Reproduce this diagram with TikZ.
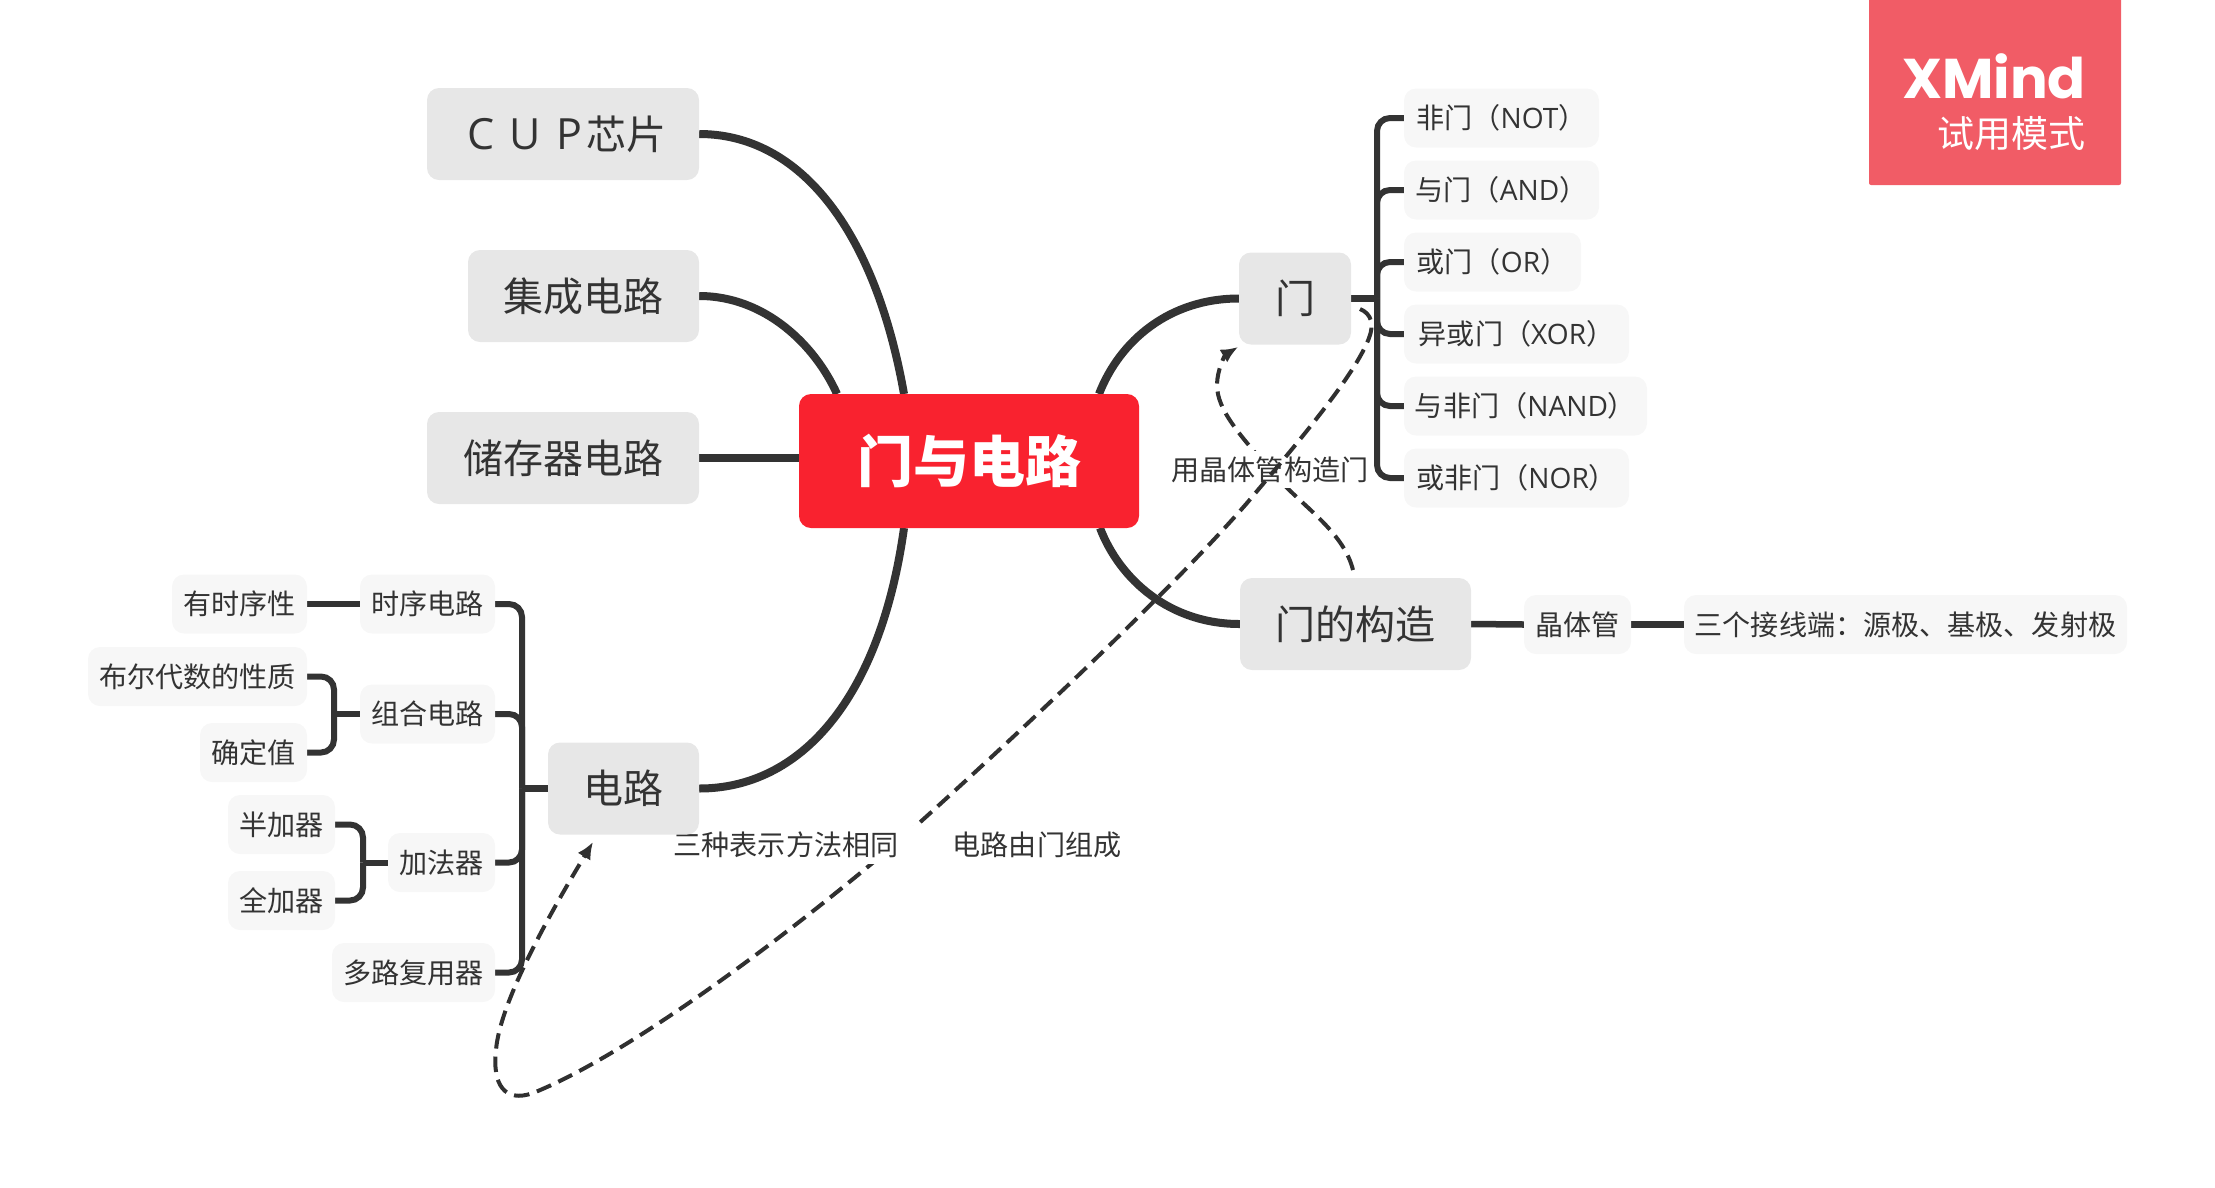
\documentclass[tikz,border=0pt]{standalone}
\usepackage{fontspec}
\setmainfont{Noto Sans CJK SC}
\newfontfamily\logofont{Poppins}
\newfontfamily\latfont{Open Sans}
\usetikzlibrary{arrows.meta,backgrounds}
\definecolor{ink}{HTML}{333333}
\definecolor{maingray}{HTML}{E7E7E7}
\definecolor{leafgray}{HTML}{F7F7F7}
\definecolor{corered}{HTML}{F9222F}
\definecolor{logored}{HTML}{F15C66}
\tikzset{
  boxbase/.style={rectangle,rounded corners=12pt,inner sep=0pt,text=ink,anchor=center},
  topicbox/.style={boxbase,fill=maingray,minimum height=92pt,font=\fontsize{40pt}{44pt}\selectfont},
  leafbox/.style={boxbase,fill=leafgray,minimum height=59pt,font=\fontsize{28.1pt}{32pt}\selectfont},
  corebox/.style={boxbase,fill=corered,text=white,minimum width=340pt,minimum height=134pt,font=\fontsize{56pt}{62pt}\selectfont\bfseries},
  linklabel/.style={inner sep=0pt,text=ink,font=\fontsize{28.1pt}{32pt}\selectfont},
  curvelink/.style={draw=ink,line width=8pt},
  stublink/.style={draw=ink,line width=6pt},
  bracelink/.style={draw=ink,line width=6pt,rounded corners=13pt},
  rellink/.style={draw=ink!95!black,line width=4pt,dash pattern=on 15.5pt off 8pt},
  relarrow/.style={-{Latex[length=17pt,width=15pt]}}
}
\begin{document}
\begin{tikzpicture}[x=1pt,y=-1pt]
\useasboundingbox (0,0) rectangle (2215,1187);

% main topics
\node[corebox] (core) at (969,461) {门与电路};
\node[topicbox,minimum width=272pt] (cup) at (563,134) {\hspace{8pt}{\latfont\fontsize{43pt}{44pt}\selectfont\spaceskip=15pt C U P}\hspace{4pt}芯片};
\node[topicbox,minimum width=231pt] (ic) at (583.5,296) {集成电路};
\node[topicbox,minimum width=272pt] (mem) at (563,458) {储存器电路};
\node[topicbox,minimum width=151pt] (circ) at (623.5,788.5) {电路};
\node[topicbox,minimum width=112pt] (gate) at (1295,298.5) {门};
\node[topicbox,minimum width=231pt] (struct) at (1355.5,624) {门的构造};

% right subtopics
\node[leafbox,minimum width=195pt] (not) at (1501.5,118) {非门（{\latfont NOT}）};
\node[leafbox,minimum width=195pt] (and) at (1501.5,190) {与门（{\latfont AND}）};
\node[leafbox,minimum width=177pt] (or) at (1492.5,262) {或门（{\latfont OR}）};
\node[leafbox,minimum width=225pt] (xor) at (1516.5,334) {异或门（{\latfont XOR}）};
\node[leafbox,minimum width=243pt] (nand) at (1525.5,406) {与非门（{\latfont NAND}）};
\node[leafbox,minimum width=225pt] (nor) at (1516.5,478) {或非门（{\latfont NOR}）};
\node[leafbox,minimum width=107pt] (trans) at (1577.5,624.5) {晶体管};
\node[leafbox,minimum width=443pt] (three) at (1905.5,624.5) {三个接线端：源极、基极、发射极};

% left subtopics
\node[leafbox,minimum width=135pt] (seq) at (427.5,604) {时序电路};
\node[leafbox,minimum width=135pt] (hast) at (239.5,604) {有时序性};
\node[leafbox,minimum width=135pt] (comb) at (427.5,714) {组合电路};
\node[leafbox,minimum width=219pt] (bool) at (197.5,676.5) {布尔代数的性质};
\node[leafbox,minimum width=107pt] (det) at (253.5,752.5) {确定值};
\node[leafbox,minimum width=107pt] (adder) at (441.5,862.5) {加法器};
\node[leafbox,minimum width=107pt] (half) at (281.5,824.5) {半加器};
\node[leafbox,minimum width=107pt] (full) at (281.5,900.5) {全加器};
\node[leafbox,minimum width=163pt] (mux) at (413.5,972.5) {多路复用器};

% logo
\node[rectangle,rounded corners=2pt,fill=logored,minimum width=252pt,minimum height=190pt,inner sep=0pt] (logo) at (1995,90) {};
\node[text=white,inner sep=0pt,anchor=east,font=\logofont\bfseries\fontsize{56pt}{60pt}\selectfont] (logoa) at (2086,76) {XMind};
\node[text=white,inner sep=0pt,anchor=east,font=\fontsize{37pt}{40pt}\selectfont] (logob) at (2086,134) {试用模式};

% junctions and connector ends
\coordinate (jr) at (1377,298.5);
\coordinate (jl) at (522,788.5);
\coordinate (jb) at (334,714);
\coordinate (ja) at (363,862.5);
\coordinate (cupin) at (904,394);
\coordinate (icin) at (837,394);
\coordinate (circin) at (904,528);
\coordinate (gatein) at (1099,394);
\coordinate (structin) at (1100,528);
\coordinate (rastart) at (1353,570);
\coordinate (raend) at (1238,347);
\coordinate (rbstart) at (1360,309);
\coordinate (rbend) at (593,842);

\begin{scope}[on background layer]
  % curved branches
  \draw[curvelink] (cup.east) .. controls (800,134) and (875,230) .. (cupin);
  \draw[curvelink] (ic.east) .. controls (765,296) and (815,345) .. (icin);
  \draw[curvelink] (mem.east) -- (mem.east -| core.west);
  \draw[curvelink] (circ.east) .. controls (800,788.5) and (880,700) .. (circin);
  \draw[curvelink] (gate.west) .. controls (1170,298.5) and (1120,340) .. (gatein);
  \draw[curvelink] (struct.west) .. controls (1170,624) and (1120,580) .. (structin);

  % right brace
  \draw[stublink,line width=7pt] (gate.east) -- (jr);
  \draw[bracelink] (jr) |- (not.west);
  \draw[bracelink] (jr) |- (and.west);
  \draw[bracelink] (jr) |- (or.west);
  \draw[bracelink] (jr) |- (xor.west);
  \draw[bracelink] (jr) |- (nand.west);
  \draw[bracelink] (jr) |- (nor.west);
  \draw[stublink,line width=6.5pt] (struct.east) -- (trans.west);
  \draw[stublink,line width=6.5pt] (trans.east) -- (three.west);

  % left brace
  \draw[stublink,line width=7pt] (circ.west) -- (jl);
  \draw[bracelink] (jl) |- (seq.east);
  \draw[bracelink] (jl) |- (comb.east);
  \draw[bracelink] (jl) |- (adder.east);
  \draw[bracelink] (jl) |- (mux.east);
  \draw[stublink] (seq.west) -- (hast.east);
  \draw[stublink] (comb.west) -- (jb);
  \draw[bracelink] (jb) |- (bool.east);
  \draw[bracelink] (jb) |- (det.east);
  \draw[stublink] (adder.west) -- (ja);
  \draw[bracelink] (ja) |- (half.east);
  \draw[bracelink] (ja) |- (full.east);

  % relationships and their labels
  \draw[rellink,relarrow] (rastart)
     .. controls (1343,530) and (1300,505) .. (1270,470)
     .. controls (1240,435) and (1217,410) .. (1217,385)
     .. controls (1217,370) and (1225,355) .. (raend);
  \node[linklabel,fill=white,minimum height=37pt] (lab1) at (1270,469.5) {用晶体管构造门};
  \draw[rellink,relarrow] (rbstart)
     .. controls (1372,314) and (1374,325) .. (1369,338)
     .. controls (1355,375) and (1300,440) .. (1247,503)
     .. controls (1180,580) and (1050,705) .. (917,825)
     .. controls (820,910) and (640,1050) .. (533,1093)
     .. controls (505,1103) and (492,1085) .. (496,1050)
     .. controls (500,1000) and (555,905) .. (rbend);
  \node[linklabel,fill=white,minimum height=38pt,inner xsep=13pt] (lab2) at (790,844.5) {三种表示方法相同\hspace{8pt}\null};
  \node[linklabel] (lab3) at (1037,845) {电路由门组成};
\end{scope}
\end{tikzpicture}
\end{document}
